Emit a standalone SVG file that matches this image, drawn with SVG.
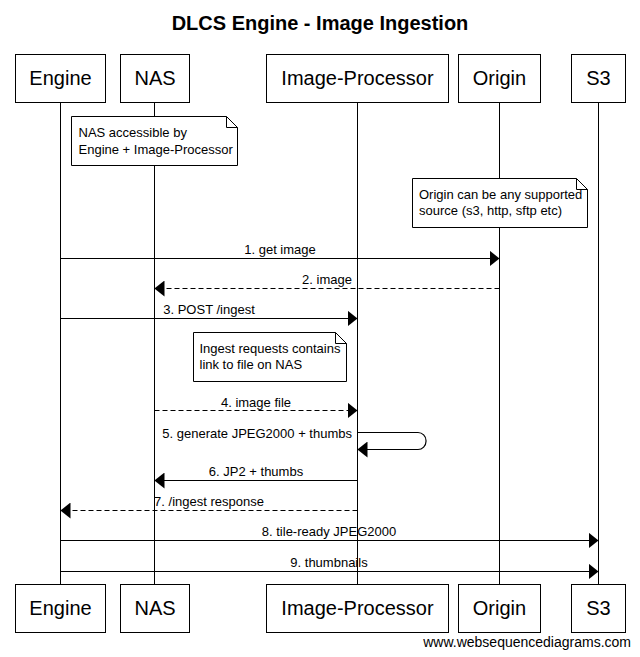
<svg xmlns="http://www.w3.org/2000/svg" width="640" height="657" viewBox="0 0 640 657">
<style>
text{font-family:"Liberation Sans",Arial,sans-serif;fill:#000}
.title{font-size:20px;font-weight:bold;text-anchor:middle}
.part rect{fill:#fff;stroke:#000;stroke-width:1}
.part text{font-size:20px;text-anchor:middle}
.life{stroke:#000;stroke-width:1;fill:none}
.note path{fill:#fff;stroke:#000;stroke-width:1}
.note text{font-size:13px}
.msg{stroke:#000;stroke-width:1.2;fill:none}
.dash{stroke-dasharray:5,3}
.lbl{font-size:13px;text-anchor:middle}
.wm{font-size:14px;text-anchor:end}
</style>
<defs>
<marker id="ah" viewBox="0 0 10 16" refX="10" refY="8" markerWidth="10" markerHeight="16" markerUnits="userSpaceOnUse" orient="auto">
<path d="M0,0 L10,8 L0,16 Z" fill="#000"/>
</marker>
</defs>
<rect width="640" height="657" fill="#fff"/>
<text class="title" x="320" y="30">DLCS Engine - Image Ingestion</text>

<g id="lifelines">
<line class="life" x1="60.5" y1="102.5" x2="60.5" y2="584.5"/>
<line class="life" x1="154.5" y1="102.5" x2="154.5" y2="584.5"/>
<line class="life" x1="357.5" y1="102.5" x2="357.5" y2="584.5"/>
<line class="life" x1="499.5" y1="102.5" x2="499.5" y2="584.5"/>
<line class="life" x1="598.5" y1="102.5" x2="598.5" y2="584.5"/>
</g>

<g id="engine" class="part">
<rect x="15.5" y="54.5" width="90" height="48"/><text x="60.5" y="85">Engine</text>
<rect x="15.5" y="584.5" width="90" height="48"/><text x="60.5" y="615">Engine</text>
</g>
<g id="nas" class="part">
<rect x="120.5" y="54.5" width="69" height="48"/><text x="155" y="85">NAS</text>
<rect x="120.5" y="584.5" width="69" height="48"/><text x="155" y="615">NAS</text>
</g>
<g id="image-processor" class="part">
<rect x="266.5" y="54.5" width="182" height="48"/><text x="357.5" y="85">Image-Processor</text>
<rect x="266.5" y="584.5" width="182" height="48"/><text x="357.5" y="615">Image-Processor</text>
</g>
<g id="origin" class="part">
<rect x="458.5" y="54.5" width="82" height="48"/><text x="499.5" y="85">Origin</text>
<rect x="458.5" y="584.5" width="82" height="48"/><text x="499.5" y="615">Origin</text>
</g>
<g id="s3" class="part">
<rect x="571.5" y="54.5" width="54" height="48"/><text x="598.5" y="85">S3</text>
<rect x="571.5" y="584.5" width="54" height="48"/><text x="598.5" y="615">S3</text>
</g>

<g id="note-nas" class="note">
<path d="M71.5,116.5 H226.5 L237.5,127.5 V165.5 H71.5 Z M226.5,116.5 V127.5 H237.5"/>
<text x="78.5" y="137">NAS accessible by</text>
<text x="78.5" y="154">Engine + Image-Processor</text>
</g>
<g id="note-origin" class="note">
<path d="M412.5,178.5 H576.5 L587.5,189.5 V227.5 H412.5 Z M576.5,178.5 V189.5 H587.5"/>
<text x="419" y="198.5">Origin can be any supported</text>
<text x="419" y="215">source (s3, http, sftp etc)</text>
</g>
<g id="note-ingest" class="note">
<path d="M193.5,332.5 H335.5 L346.5,343.5 V381.5 H193.5 Z M335.5,332.5 V343.5 H346.5"/>
<text x="199.5" y="352.5">Ingest requests contains</text>
<text x="199.5" y="368.5">link to file on NAS</text>
</g>

<g id="connectors">
<line class="msg" x1="60.5" y1="258.5" x2="499.5" y2="258.5" marker-end="url(#ah)"/>
<text class="lbl" x="280" y="254">1. get image</text>
<line class="msg dash" x1="499.5" y1="288.5" x2="154.5" y2="288.5" marker-end="url(#ah)"/>
<text class="lbl" x="327" y="284">2. image</text>
<line class="msg" x1="60.5" y1="318.5" x2="357.5" y2="318.5" marker-end="url(#ah)"/>
<text class="lbl" x="209" y="314">3. POST /ingest</text>
<line class="msg dash" x1="154.5" y1="410.5" x2="357.5" y2="410.5" marker-end="url(#ah)"/>
<text class="lbl" x="256" y="407">4. image file</text>
<path class="msg" d="M357.5,432.5 H418 A8,8 0 0 1 426,440.5 V441.5 A8,8 0 0 1 418,449.5 H357.5" marker-end="url(#ah)"/>
<text x="352" y="438" style="font-size:13px;text-anchor:end">5. generate JPEG2000 + thumbs</text>
<line class="msg" x1="357.5" y1="480.5" x2="154.5" y2="480.5" marker-end="url(#ah)"/>
<text class="lbl" x="256" y="476">6. JP2 + thumbs</text>
<line class="msg dash" x1="357.5" y1="510.5" x2="60.5" y2="510.5" marker-end="url(#ah)"/>
<text class="lbl" x="209" y="506">7. /ingest response</text>
<line class="msg" x1="60.5" y1="540.5" x2="598.5" y2="540.5" marker-end="url(#ah)"/>
<text class="lbl" x="329" y="536">8. tile-ready JPEG2000</text>
<line class="msg" x1="60.5" y1="571.5" x2="598.5" y2="571.5" marker-end="url(#ah)"/>
<text class="lbl" x="329" y="567">9. thumbnails</text>
</g>

<text class="wm" x="631" y="647">www.websequencediagrams.com</text>
</svg>
